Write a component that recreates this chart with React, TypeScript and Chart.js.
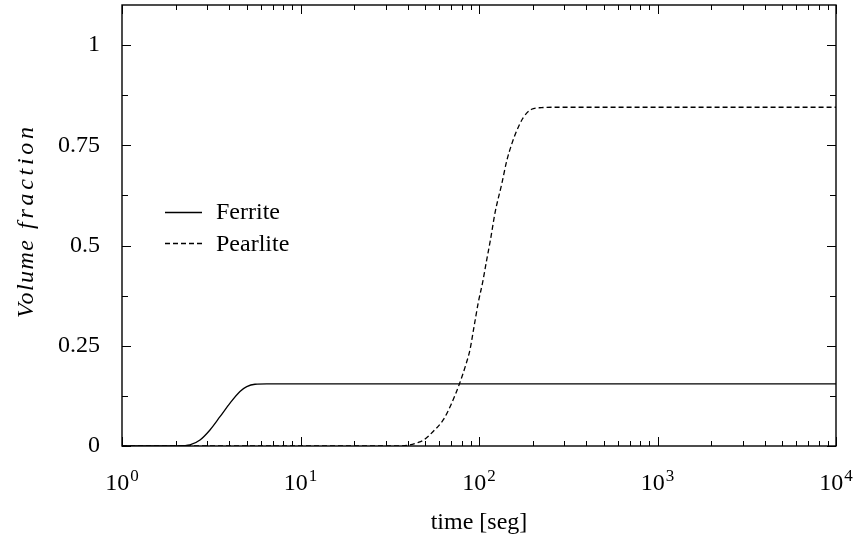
import React, { useEffect, useRef } from 'react';
import { Chart, registerables } from 'chart.js';

Chart.register(...registerables);

// ---- data ----
const ferriteTime = [1, 2.05, 2.2, 2.4, 2.735, 3.11, 3.54, 4.03, 4.58, 5.0, 5.56, 6.47, 10, 100, 1000, 10000];
const ferriteFraction = [0, 0, 0.0008, 0.0025, 0.015, 0.04, 0.073, 0.107, 0.136, 0.148, 0.154, 0.155, 0.155, 0.155, 0.155, 0.155];

const pearliteTime = [1, 35, 41, 45, 49, 55, 63, 70, 78, 84, 89, 94, 99, 105, 110, 116, 123, 134, 143, 152.5, 162.6, 177, 197, 224, 272, 1000, 10000];
const pearliteFraction = [0, 0, 0.003, 0.008, 0.015, 0.035, 0.065, 0.105, 0.157, 0.2, 0.24, 0.3, 0.357, 0.41, 0.46, 0.515, 0.582, 0.653, 0.711, 0.753, 0.786, 0.819, 0.84, 0.844, 0.845, 0.845, 0.845];

const seriesNames = ['Ferrite', 'Pearlite'];
const yTickValues = [0, 0.25, 0.5, 0.75, 1];
const yMinorValues = [0.125, 0.375, 0.625, 0.875];
const xDecadeExponents = [0, 1, 2, 3, 4];
const xTitle = 'time [seg]';
const yTitleWords = ['Volume', 'fraction'];

const FONT = '"Liberation Serif", "Times New Roman", serif';

const decorPlugin = {
  id: 'decor',
  afterDraw(chart: any) {
    const ctx: CanvasRenderingContext2D = chart.ctx;
    const { left, right, top, bottom } = chart.chartArea;
    const xs = chart.scales.x;
    const ys = chart.scales.y;
    ctx.save();
    ctx.strokeStyle = '#000';
    ctx.fillStyle = '#000';

    // frame
    ctx.lineWidth = 1.4;
    ctx.strokeRect(left, top, right - left, bottom - top);

    // inward ticks
    ctx.lineWidth = 1;
    ctx.beginPath();
    for (const d of xDecadeExponents) {
      const base = Math.pow(10, d);
      for (let m = 1; m <= 9; m++) {
        const v = base * m;
        if (v > xs.max + 1e-9) break;
        const px = Math.round(xs.getPixelForValue(v)) + 0.5;
        const len = m === 1 ? 9 : 5;
        ctx.moveTo(px, bottom);
        ctx.lineTo(px, bottom - len);
        ctx.moveTo(px, top);
        ctx.lineTo(px, top + len);
      }
    }
    const yAll = [...yTickValues.map(v => [v, 9]), ...yMinorValues.map(v => [v, 6])];
    for (const [v, len] of yAll) {
      const py = Math.round(ys.getPixelForValue(v)) + 0.5;
      ctx.moveTo(left, py);
      ctx.lineTo(left + len, py);
      ctx.moveTo(right, py);
      ctx.lineTo(right - len, py);
    }
    ctx.stroke();

    // x tick labels 10^k
    ctx.textBaseline = 'alphabetic';
    ctx.textAlign = 'left';
    for (const d of xDecadeExponents) {
      const px = xs.getPixelForValue(Math.pow(10, d));
      ctx.font = `24px ${FONT}`;
      const wb = ctx.measureText('10').width;
      ctx.font = `17px ${FONT}`;
      const we = ctx.measureText(String(d)).width;
      const total = wb + 1 + we;
      const x0 = px - total / 2;
      ctx.font = `24px ${FONT}`;
      ctx.fillText('10', x0, 490);
      ctx.font = `17px ${FONT}`;
      ctx.fillText(String(d), x0 + wb + 1, 481);
    }

    // x title
    ctx.font = `24px ${FONT}`;
    ctx.textAlign = 'center';
    ctx.fillText(xTitle, (left + right) / 2, 529);

    // y title (rotated, italic, spaced)
    ctx.save();
    ctx.translate(33, 0);
    ctx.rotate(-Math.PI / 2);
    ctx.font = `italic 24px ${FONT}`;
    ctx.textAlign = 'left';
    const spans = [[240, 318], [127, 229]];
    yTitleWords.forEach((word, i) => {
      const [b, a] = spans[i];
      (ctx as any).letterSpacing = '0px';
      const w0 = ctx.measureText(word).width;
      const sp = (a - b - w0) / (word.length - 1);
      (ctx as any).letterSpacing = `${sp}px`;
      ctx.fillText(word, -a, 0);
    });
    (ctx as any).letterSpacing = '0px';
    ctx.restore();

    // legend
    ctx.font = `24px ${FONT}`;
    ctx.textAlign = 'left';
    ctx.lineWidth = 1.3;
    ctx.beginPath();
    ctx.setLineDash([]);
    ctx.moveTo(165, 212.5);
    ctx.lineTo(202, 212.5);
    ctx.stroke();
    ctx.fillText(seriesNames[0], 216, 219);
    ctx.beginPath();
    ctx.setLineDash([5, 3]);
    ctx.moveTo(165, 243.5);
    ctx.lineTo(202, 243.5);
    ctx.stroke();
    ctx.setLineDash([]);
    ctx.fillText(seriesNames[1], 216, 251);

    ctx.restore();
  },
};

export default function App() {
  const canvasRef = useRef<HTMLCanvasElement | null>(null);

  useEffect(() => {
    if (!canvasRef.current) return;
    const chart = new Chart(canvasRef.current, {
      type: 'line',
      data: {
        datasets: [
          {
            label: seriesNames[0],
            data: ferriteTime.map((t, i) => ({ x: t, y: ferriteFraction[i] })),
            borderColor: '#000',
            borderWidth: 1.3,
            pointRadius: 0,
            cubicInterpolationMode: 'monotone',
            fill: false,
          },
          {
            label: seriesNames[1],
            data: pearliteTime.map((t, i) => ({ x: t, y: pearliteFraction[i] })),
            borderColor: '#000',
            borderWidth: 1.3,
            borderDash: [5, 3],
            pointRadius: 0,
            cubicInterpolationMode: 'monotone',
            fill: false,
          },
        ],
      },
      options: {
        animation: false,
        responsive: false,
        maintainAspectRatio: false,
        layout: { padding: { top: 5, right: 17, left: 0, bottom: 0 } },
        plugins: { legend: { display: false }, tooltip: { enabled: false } },
        scales: {
          x: {
            type: 'logarithmic',
            min: 1,
            max: 10000,
            grid: { display: false, drawTicks: false },
            border: { display: false },
            ticks: { display: false },
            afterFit: (s: any) => {
              s.height = 94;
              s.paddingLeft = 0; s.paddingRight = 0; s.paddingTop = 0; s.paddingBottom = 0;
            },
          },
          y: {
            type: 'linear',
            min: 0,
            max: 1.1,
            grid: { display: false, drawTicks: false },
            border: { display: false },
            ticks: {
              padding: 22,
              color: '#000',
              font: { family: FONT, size: 24 },
              callback: (v: any) => String(Number(v)),
            },
            afterBuildTicks: (s: any) => { s.ticks = yTickValues.map(v => ({ value: v })); },
            afterFit: (s: any) => {
              s.width = 122;
              s.paddingLeft = 0; s.paddingRight = 0; s.paddingTop = 0; s.paddingBottom = 0;
            },
          },
        },
      } as any,
      plugins: [decorPlugin],
    });
    return () => chart.destroy();
  }, []);

  return (
    <div style={{ position: 'absolute', left: 0, top: 0, width: 853, height: 540, background: '#fff' }}>
      <canvas ref={canvasRef} width={853} height={540} style={{ display: 'block' }} />
    </div>
  );
}
